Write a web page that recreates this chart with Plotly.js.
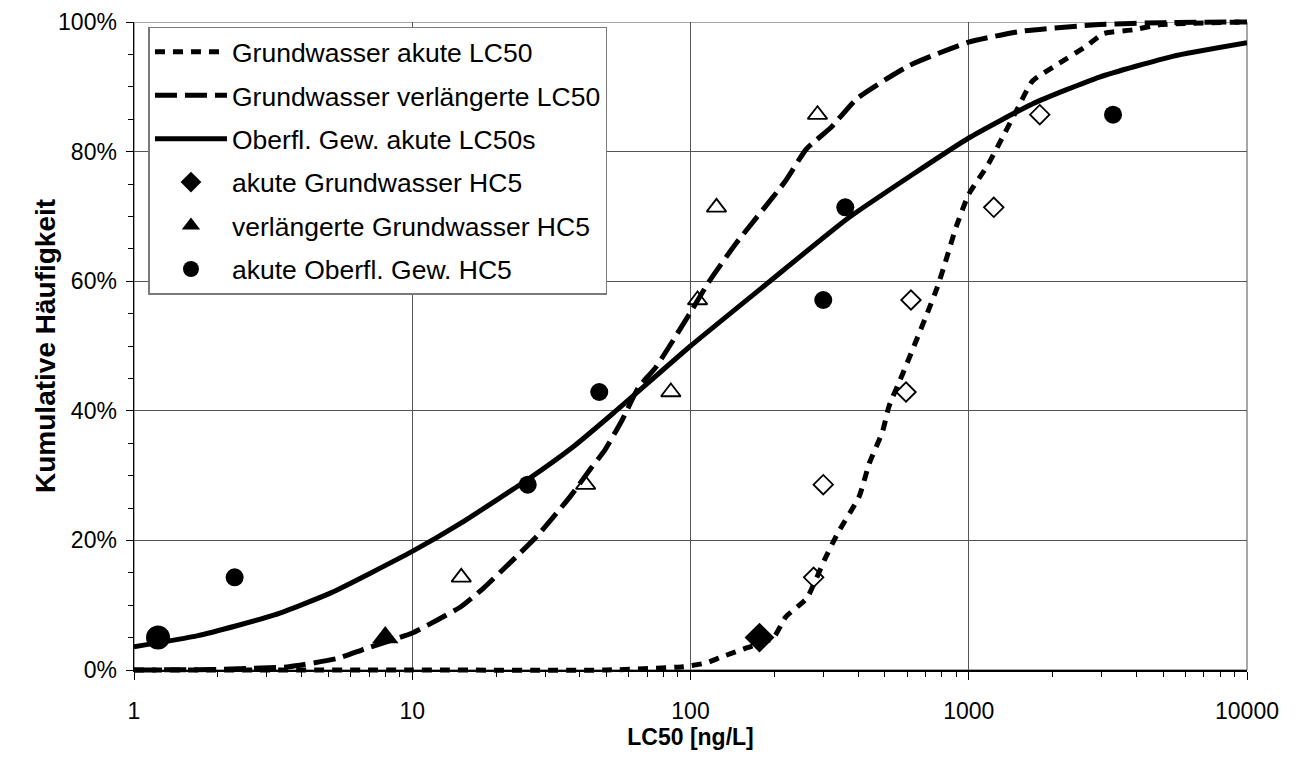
<!DOCTYPE html>
<html>
<head>
<meta charset="utf-8">
<script src="https://cdn.plot.ly/plotly-3.0.1.min.js"></script>
<style>
  html, body { margin: 0; padding: 0; background: #fff; }
  #chart { width: 1301px; height: 771px; }
</style>
</head>
<body>
<div id="chart"></div>
<script>
// ---- Data ----
// Fitted curves (cumulative %, vs LC50 ng/L)
const gwAkuteX = [1, 10, 50, 94, 114, 129, 159, 198, 220, 262, 303, 338, 404, 439, 490, 517, 580, 695, 770, 829, 903, 1000, 1173, 1330, 1500, 1695, 2090, 2650, 3050, 3900, 4900, 10000];
const gwAkuteY = [0, 0, 0, 0.5, 1.1, 2.0, 3.4, 4.9, 8.2, 11.1, 17.0, 21.1, 26.8, 31.9, 36.8, 40.7, 45.8, 54.1, 59.0, 63.3, 68.5, 73.4, 78.0, 82.4, 86.7, 90.9, 93.5, 96.3, 98.2, 98.8, 99.6, 100];

const gwVerlX = [1, 2, 3.6, 5.4, 6.7, 10, 12.4, 15, 18, 22.4, 28, 37, 44, 49, 57, 65, 75, 100, 116, 145, 218, 261, 321, 397, 613, 1000, 1560, 2950, 5000, 10000];
const gwVerlY = [0, 0.1, 0.5, 1.8, 3.2, 5.7, 7.8, 9.8, 12.6, 16.5, 20.6, 26.8, 31.2, 33.8, 38.7, 43.6, 46.7, 55.2, 59.8, 65.7, 75.3, 80.4, 83.8, 88.2, 93.3, 96.9, 98.6, 99.6, 99.9, 100];

const owAkuteX = [1, 1.7, 3.2, 5.1, 10, 15, 26, 38, 53, 100, 193, 365, 630, 1000, 1700, 2950, 5400, 10000];
const owAkuteY = [3.6, 5.3, 8.5, 11.9, 18.3, 22.7, 29.4, 34.5, 39.7, 50.0, 60.0, 69.6, 76.5, 82.1, 87.4, 91.5, 94.7, 96.8];

// Observed data (open / small markers)
const gwAkuteDataX = [277, 300, 595, 620, 1230, 1800];
const gwAkuteDataY = [14.3, 28.6, 42.9, 57.1, 71.4, 85.7];
const gwVerlDataX = [15, 42, 85, 106, 124, 286];
const gwVerlDataY = [14.3, 28.6, 42.9, 57.1, 71.4, 85.7];
const owAkuteDataX = [2.3, 26, 47, 300, 360, 3300];
const owAkuteDataY = [14.3, 28.6, 42.9, 57.1, 71.4, 85.7];

// HC5 points
const hc5GwAkuteX = [177];  const hc5GwAkuteY = [5];
const hc5GwVerlX = [8.0];   const hc5GwVerlY = [5];
const hc5OwAkuteX = [1.22]; const hc5OwAkuteY = [5];

// Labels
const seriesNames = [
  'Grundwasser akute LC50',
  'Grundwasser verlängerte LC50',
  'Oberfl. Gew. akute LC50s',
  'akute Grundwasser HC5',
  'verlängerte Grundwasser HC5',
  'akute Oberfl. Gew. HC5'
];
const xTickVals = [1, 10, 100, 1000, 10000];
const xTickText = ['1', '10', '100', '1000', '10000'];
const xMinorVals = [];
[1, 10, 100, 1000].forEach(d => { for (let k = 2; k <= 9; k++) xMinorVals.push(d * k); });
const xTitle = 'LC50 [ng/L]';
const yTitle = 'Kumulative Häufigkeit';

// ---- Chart ----
const FONT = 'Liberation Sans, Arial, sans-serif';
const LW = 5;
// Marks are drawn on an overlay subplot (x2/y2) a few pixels taller than the
// visible axes so that curves lying on 0% / 100% are not half clipped.
const PLOT_H = 656, PAD = 4;
const dom = PAD / PLOT_H;
const ext = 100 * PAD / (PLOT_H - 2 * PAD);
const on2 = t => Object.assign({ xaxis: 'x2', yaxis: 'y2' }, t);

const traces = [
  on2({ x: gwAkuteX, y: gwAkuteY, name: seriesNames[0], mode: 'lines', legendgroup: 'a',
    line: { color: '#000', width: LW, dash: '10px,8px', shape: 'spline', smoothing: 0.5 } }),
  on2({ x: gwVerlX, y: gwVerlY, name: seriesNames[1], mode: 'lines', legendgroup: 'b',
    line: { color: '#000', width: LW, dash: '22px,8px', shape: 'spline', smoothing: 0.5 } }),
  on2({ x: owAkuteX, y: owAkuteY, name: seriesNames[2], mode: 'lines', legendgroup: 'c',
    line: { color: '#000', width: LW, shape: 'spline', smoothing: 0.5 } }),
  on2({ x: gwAkuteDataX, y: gwAkuteDataY, mode: 'markers', showlegend: false,
    marker: { symbol: 'diamond-open', size: 15, color: '#000', line: { width: 1.8, color: '#000' } } }),
  on2({ x: gwVerlDataX, y: gwVerlDataY, mode: 'markers', showlegend: false,
    marker: { symbol: 'triangle-up-open', size: 17, color: '#000', line: { width: 1.8, color: '#000' } } }),
  on2({ x: owAkuteDataX, y: owAkuteDataY, mode: 'markers', showlegend: false,
    marker: { symbol: 'circle', size: 18, color: '#000' } }),
  on2({ x: hc5GwAkuteX, y: hc5GwAkuteY, name: seriesNames[3], mode: 'markers', legendgroup: 'd',
    marker: { symbol: 'diamond', size: 23, color: '#000' } }),
  on2({ x: hc5GwVerlX, y: hc5GwVerlY, name: seriesNames[4], mode: 'markers', legendgroup: 'e',
    marker: { symbol: 'triangle-up', size: 23, color: '#000' } }),
  on2({ x: hc5OwAkuteX, y: hc5OwAkuteY, name: seriesNames[5], mode: 'markers', legendgroup: 'f',
    marker: { symbol: 'circle', size: 24, color: '#000' } })
];

const layout = {
  width: 1301, height: 771,
  margin: { l: 134, r: 54, t: 22 - PAD, b: 101 - PAD, pad: 0 },
  paper_bgcolor: '#fff', plot_bgcolor: 'rgba(0,0,0,0)',
  font: { family: FONT, color: '#000', size: 23 },
  showlegend: true,
  legend: {
    x: 0.013, y: 0.987, xanchor: 'left', yanchor: 'top',
    bgcolor: '#fff', bordercolor: '#7a7a7a', borderwidth: 1.5,
    font: { family: FONT, size: 26.5, color: '#000' },
    traceorder: 'grouped', tracegroupgap: 6, itemwidth: 72
  },
  xaxis: {
    type: 'log', range: [0, 4], domain: [0, 1], anchor: 'y',
    tickmode: 'array', tickvals: xTickVals, ticktext: xTickText,
    ticks: 'outside', ticklen: 8, tickcolor: '#000', tickwidth: 1,
    showline: true, linecolor: '#000', linewidth: 1.5,
    showgrid: true, gridcolor: '#555', gridwidth: 1, zeroline: false,
    tickfont: { size: 23 }, ticklabelstandoff: 12,
    minor: { tickmode: 'array', tickvals: xMinorVals, ticks: 'outside', ticklen: 5, tickcolor: '#000', showgrid: false },
    title: { text: xTitle, font: { size: 23, weight: 'bold' }, standoff: 5 }
  },
  yaxis: {
    range: [0, 100], dtick: 20, ticksuffix: '%', domain: [dom, 1 - dom], anchor: 'x',
    ticks: 'outside', ticklen: 7, tickcolor: '#000', tickwidth: 1,
    showline: true, linecolor: '#000', linewidth: 1.5,
    showgrid: true, gridcolor: '#555', gridwidth: 1, zeroline: false,
    tickfont: { size: 23 }, ticklabelstandoff: 4,
    minor: { dtick: 5, ticks: 'outside', ticklen: 5, tickcolor: '#000', showgrid: false }
  },
  xaxis2: { type: 'log', range: [0, 4], domain: [0, 1], anchor: 'y2', visible: false, fixedrange: true },
  yaxis2: { range: [-ext, 100 + ext], domain: [0, 1], anchor: 'x2', visible: false, fixedrange: true },
  annotations: [
    { text: '<b>' + yTitle + '</b>', xref: 'paper', yref: 'paper', x: -0.08, y: 0.5,
      xanchor: 'center', yanchor: 'middle', textangle: -90, showarrow: false,
      font: { family: FONT, size: 28, color: '#000' } }
  ],
  shapes: [
    { type: 'rect', xref: 'paper', yref: 'y', x0: 0, x1: 1, y0: 0, y1: 100,
      line: { color: '#8a8a8a', width: 1.5 }, layer: 'below' }
  ]
};

Plotly.newPlot('chart', traces, layout, { displayModeBar: false, staticPlot: true });
</script>
</body>
</html>
